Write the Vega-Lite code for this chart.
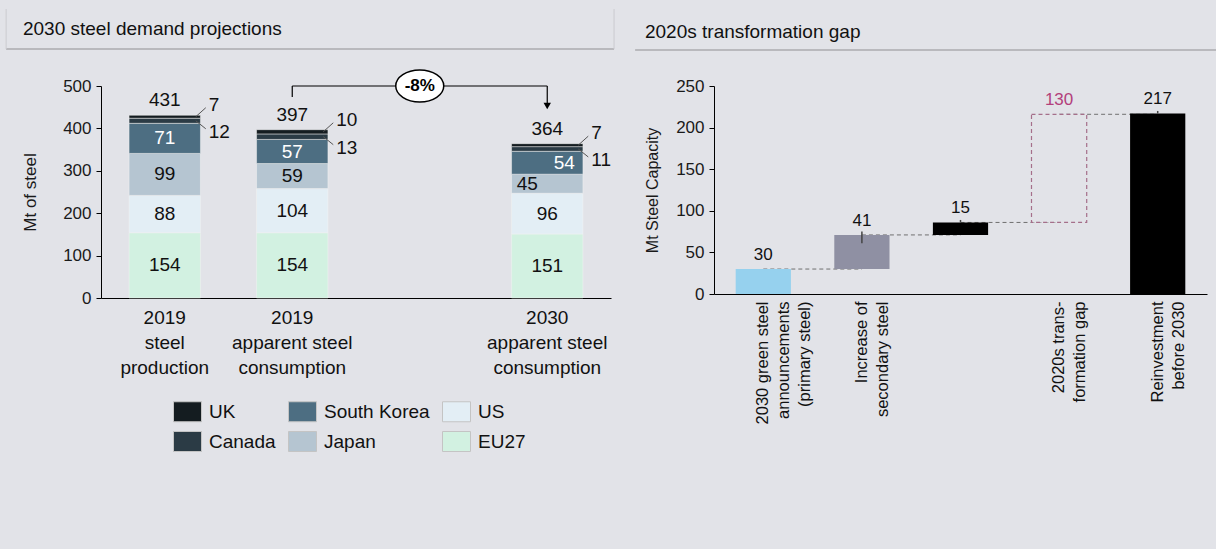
{
  "$schema": "https://vega.github.io/schema/vega-lite/v6.json",
  "background": "#e2e3e8",
  "padding": {"left": 5, "top": 8, "right": 0, "bottom": 95},
  "config": {
    "font": "Liberation Sans",
    "view": {"stroke": null},
    "axis": {"labelFont": "Liberation Sans", "titleFont": "Liberation Sans", "grid": false}
  },
  "resolve": {"scale": {"color": "independent"}, "legend": {"color": "independent"}},
  "datasets": {
    "steel": [
      {"cat": "2019|steel|production", "country": "EU27", "rank": 1, "value": 154},
      {"cat": "2019|steel|production", "country": "US", "rank": 2, "value": 88},
      {"cat": "2019|steel|production", "country": "Japan", "rank": 3, "value": 99},
      {"cat": "2019|steel|production", "country": "South Korea", "rank": 4, "value": 71},
      {"cat": "2019|steel|production", "country": "Canada", "rank": 5, "value": 12},
      {"cat": "2019|steel|production", "country": "UK", "rank": 6, "value": 7},
      {"cat": "2019|apparent steel|consumption", "country": "EU27", "rank": 1, "value": 154},
      {"cat": "2019|apparent steel|consumption", "country": "US", "rank": 2, "value": 104},
      {"cat": "2019|apparent steel|consumption", "country": "Japan", "rank": 3, "value": 59},
      {"cat": "2019|apparent steel|consumption", "country": "South Korea", "rank": 4, "value": 57},
      {"cat": "2019|apparent steel|consumption", "country": "Canada", "rank": 5, "value": 13},
      {"cat": "2019|apparent steel|consumption", "country": "UK", "rank": 6, "value": 10},
      {"cat": "2030|apparent steel|consumption", "country": "EU27", "rank": 1, "value": 151},
      {"cat": "2030|apparent steel|consumption", "country": "US", "rank": 2, "value": 96},
      {"cat": "2030|apparent steel|consumption", "country": "Japan", "rank": 3, "value": 45},
      {"cat": "2030|apparent steel|consumption", "country": "South Korea", "rank": 4, "value": 54},
      {"cat": "2030|apparent steel|consumption", "country": "Canada", "rank": 5, "value": 11},
      {"cat": "2030|apparent steel|consumption", "country": "UK", "rank": 6, "value": 7}
    ],
    "wf": [
      {"cat": "2030 green steel|announcements|(primary steel)", "kind": "green", "start": 0, "end": 30, "delta": 30},
      {"cat": "Increase of|secondary steel", "kind": "secondary", "start": 30, "end": 71, "delta": 41},
      {"cat": "blank", "kind": "other", "start": 71, "end": 86, "delta": 15},
      {"cat": "2020s trans-|formation gap", "kind": "gap", "start": 86, "end": 216, "delta": 130},
      {"cat": "Reinvestment|before 2030", "kind": "reinvest", "start": 0, "end": 217, "delta": 217}
    ],
    "links": [
      {"from": "2030 green steel|announcements|(primary steel)", "to": "Increase of|secondary steel", "level": 30},
      {"from": "Increase of|secondary steel", "to": "blank", "level": 71},
      {"from": "blank", "to": "2020s trans-|formation gap", "level": 86},
      {"from": "2020s trans-|formation gap", "to": "Reinvestment|before 2030", "level": 216}
    ],
    "stubs": [
      {"cat": "Increase of|secondary steel", "a": 61, "b": 75},
      {"cat": "blank", "a": 86, "b": 89},
      {"cat": "Reinvestment|before 2030", "a": 217, "b": 220}
    ]
  },
  "spacing": 19,
  "hconcat": [
    {
      "width": 510,
      "height": 212,
      "resolve": {"scale": {"x": "independent", "y": "independent"}},
      "layer": [
        {
          "data": {"name": "steel"},
          "layer": [
            {
              "mark": {"type": "bar", "stroke": "#f2f2f2", "strokeWidth": 0.5},
              "encoding": {
                "x": {
                  "field": "cat", "type": "nominal",
                  "scale": {"domain": ["2019|steel|production", "2019|apparent steel|consumption", " ", "2030|apparent steel|consumption"], "paddingInner": 0.44, "paddingOuter": 0.22},
                  "axis": {"title": null, "labelAngle": 0, "ticks": false, "domainColor": "#000", "domainWidth": 1, "labelFontSize": 19, "labelColor": "#111", "labelLineHeight": 25, "labelPadding": 10, "labelExpr": "split(datum.label, '|')"}
                },
                "y": {
                  "field": "value", "type": "quantitative", "stack": "zero",
                  "scale": {"domain": [0, 500], "nice": false},
                  "axis": {"title": "Mt of steel", "values": [0, 100, 200, 300, 400, 500], "domainColor": "#000", "tickColor": "#000", "tickSize": 5, "labelFontSize": 17, "labelColor": "#1a1a1a", "labelPadding": 5, "titleFontSize": 17, "titleFontWeight": "normal", "titleColor": "#1a1a1a", "titlePadding": 23}
                },
                "color": {
                  "field": "country", "type": "nominal",
                  "scale": {"domain": ["UK", "South Korea", "US", "Canada", "Japan", "EU27"], "range": ["#141c20", "#4d6e82", "#e3eef5", "#2b3b45", "#b5c5d1", "#d2f1e1"]},
                  "legend": {"orient": "none", "legendX": 76, "legendY": 315, "columns": 3, "direction": "horizontal", "title": null, "symbolType": "M-1.4,-1H1.4V1H-1.4Z", "symbolSize": 400, "symbolStrokeColor": "#c4c4c4", "symbolStrokeWidth": 1, "labelFontSize": 19, "labelOffset": 11, "columnPadding": 10, "rowPadding": 5, "labelColor": "#111", "padding": 0}
                },
                "order": {"field": "rank", "type": "quantitative"}
              }
            },
            {
              "transform": [
                {"stack": "value", "groupby": ["cat"], "sort": [{"field": "rank", "order": "ascending"}], "as": ["v0", "v1"]},
                {"calculate": "(datum.v0 + datum.v1) / 2", "as": "mid"}
              ],
              "layer": [
                {
                  "transform": [{"filter": "datum.rank <= 4 && !(datum.cat == '2030|apparent steel|consumption' && datum.rank >= 3)"}],
                  "mark": {"type": "text", "fontSize": 19, "baseline": "middle"},
                  "encoding": {
                    "x": {"field": "cat", "type": "nominal"},
                    "y": {"field": "mid", "type": "quantitative", "stack": null},
                    "text": {"field": "value"},
                    "color": {"condition": {"test": "datum.country == 'South Korea'", "value": "#ffffff"}, "value": "#111111"}
                  }
                },
                {
                  "transform": [{"filter": "datum.cat == '2030|apparent steel|consumption' && datum.rank == 3"}],
                  "mark": {"type": "text", "fontSize": 19, "baseline": "middle", "dx": -20, "color": "#111111"},
                  "encoding": {
                    "x": {"field": "cat", "type": "nominal"},
                    "y": {"field": "mid", "type": "quantitative", "stack": null},
                    "text": {"field": "value"}
                  }
                },
                {
                  "transform": [{"filter": "datum.cat == '2030|apparent steel|consumption' && datum.rank == 4"}],
                  "mark": {"type": "text", "fontSize": 19, "baseline": "middle", "dx": 17, "color": "#ffffff"},
                  "encoding": {
                    "x": {"field": "cat", "type": "nominal"},
                    "y": {"field": "mid", "type": "quantitative", "stack": null},
                    "text": {"field": "value"}
                  }
                },
                {
                  "transform": [{"filter": "datum.rank == 6"}],
                  "mark": {"type": "text", "fontSize": 19, "baseline": "middle", "align": "left", "dx": 44, "dy": -12, "color": "#111111"},
                  "encoding": {
                    "x": {"field": "cat", "type": "nominal"},
                    "y": {"field": "mid", "type": "quantitative", "stack": null},
                    "text": {"field": "value"}
                  }
                },
                {
                  "transform": [{"filter": "datum.rank == 5"}],
                  "mark": {"type": "text", "fontSize": 19, "baseline": "middle", "align": "left", "dx": 44, "dy": 11, "color": "#111111"},
                  "encoding": {
                    "x": {"field": "cat", "type": "nominal"},
                    "y": {"field": "mid", "type": "quantitative", "stack": null},
                    "text": {"field": "value"}
                  }
                },
                {
                  "transform": [{"filter": "datum.rank == 6"}],
                  "mark": {"type": "rule", "color": "#555555", "strokeWidth": 1, "xOffset": 31, "x2Offset": 41, "y2Offset": -9},
                  "encoding": {
                    "x": {"field": "cat", "type": "nominal"},
                    "x2": {"field": "cat"},
                    "y": {"field": "mid", "type": "quantitative", "stack": null},
                    "y2": {"field": "mid"}
                  }
                },
                {
                  "transform": [{"filter": "datum.rank == 5"}],
                  "mark": {"type": "rule", "color": "#555555", "strokeWidth": 1, "xOffset": 31, "x2Offset": 41, "y2Offset": 8},
                  "encoding": {
                    "x": {"field": "cat", "type": "nominal"},
                    "x2": {"field": "cat"},
                    "y": {"field": "mid", "type": "quantitative", "stack": null},
                    "y2": {"field": "mid"}
                  }
                }
              ]
            },
            {
              "transform": [{"aggregate": [{"op": "sum", "field": "value", "as": "total"}], "groupby": ["cat"]}],
              "mark": {"type": "text", "fontSize": 19, "baseline": "middle", "dy": -15, "color": "#111111"},
              "encoding": {
                "x": {"field": "cat", "type": "nominal"},
                "y": {"field": "total", "type": "quantitative", "stack": null},
                "text": {"field": "total"}
              }
            },
            {
              "data": {"values": [{}]},
              "mark": {"type": "rule", "color": "#000000", "strokeWidth": 1.2},
              "encoding": {
                "x": {"datum": "2019|apparent steel|consumption"},
                "y": {"datum": 474},
                "y2": {"datum": 500}
              }
            },
            {
              "data": {"values": [{}]},
              "mark": {"type": "rule", "color": "#000000", "strokeWidth": 1.2},
              "encoding": {
                "x": {"datum": "2019|apparent steel|consumption"},
                "x2": {"datum": "2030|apparent steel|consumption"},
                "y": {"datum": 500}
              }
            },
            {
              "data": {"values": [{}]},
              "mark": {"type": "rule", "color": "#000000", "strokeWidth": 1.2},
              "encoding": {
                "x": {"datum": "2030|apparent steel|consumption"},
                "y": {"datum": 500},
                "y2": {"datum": 457}
              }
            },
            {
              "data": {"values": [{}]},
              "mark": {"type": "point", "shape": "triangle-down", "size": 55, "filled": true, "color": "#000000", "opacity": 1},
              "encoding": {
                "x": {"datum": "2030|apparent steel|consumption"},
                "y": {"datum": 453}
              }
            },
            {
              "data": {"values": [{}]},
              "mark": {"type": "point", "shape": "M-1.5,0A1.5,1,0,1,0,1.5,0A1.5,1,0,1,0,-1.5,0Z", "size": 1024, "filled": true, "fill": "#ffffff", "stroke": "#000000", "strokeWidth": 1.5, "opacity": 1},
              "encoding": {
                "x": {"datum": " "},
                "y": {"datum": 500}
              }
            },
            {
              "data": {"values": [{"t": "-8%"}]},
              "mark": {"type": "text", "fontSize": 17, "fontWeight": "bold", "baseline": "middle", "color": "#000000"},
              "encoding": {
                "x": {"datum": " "},
                "y": {"datum": 500},
                "text": {"field": "t"}
              }
            }
          ]
        },
        {
          "data": {"values": [{"t": "2030 steel demand projections"}]},
          "layer": [
            {
              "mark": {"type": "rule", "color": "#ababaf", "strokeWidth": 1.5},
              "encoding": {
                "x": {"datum": -0.186, "type": "quantitative", "scale": {"domain": [0, 1]}, "axis": null},
                "x2": {"datum": 1.006},
                "y": {"datum": 1.1745, "type": "quantitative", "scale": {"domain": [0, 1]}, "axis": null}
              }
            },
            {
              "mark": {"type": "rule", "color": "#cbcbcf", "strokeWidth": 1},
              "encoding": {
                "x": {"datum": -0.186, "type": "quantitative"},
                "y": {"datum": 1.1745, "type": "quantitative"},
                "y2": {"datum": 1.363}
              }
            },
            {
              "mark": {"type": "rule", "color": "#cbcbcf", "strokeWidth": 1},
              "encoding": {
                "x": {"datum": 1.006, "type": "quantitative"},
                "y": {"datum": 1.1745, "type": "quantitative"},
                "y2": {"datum": 1.363}
              }
            },
            {
              "mark": {"type": "text", "fontSize": 19, "align": "left", "baseline": "middle", "color": "#111111"},
              "encoding": {
                "x": {"datum": -0.153, "type": "quantitative"},
                "y": {"datum": 1.269, "type": "quantitative"},
                "text": {"field": "t"}
              }
            }
          ]
        }
      ]
    },
    {
      "width": 493,
      "height": 208,
      "resolve": {"scale": {"x": "independent", "y": "independent"}},
      "layer": [
        {
          "layer": [
            {
              "data": {"name": "links"},
              "mark": {"type": "rule", "color": "#6f6f6f", "strokeWidth": 1, "strokeDash": [4, 3]},
              "encoding": {
                "x": {"field": "from", "type": "nominal", "scale": {"domain": ["2030 green steel|announcements|(primary steel)", "Increase of|secondary steel", "blank", "2020s trans-|formation gap", "Reinvestment|before 2030"], "paddingInner": 0.44, "paddingOuter": 0.22}},
                "x2": {"field": "to"},
                "y": {"field": "level", "type": "quantitative", "scale": {"domain": [0, 250], "nice": false}}
              }
            },
            {
              "data": {"name": "wf"},
              "transform": [{"filter": "datum.kind != 'gap'"}],
              "mark": {"type": "bar"},
              "encoding": {
                "x": {
                  "field": "cat", "type": "nominal",
                  "scale": {"domain": ["2030 green steel|announcements|(primary steel)", "Increase of|secondary steel", "blank", "2020s trans-|formation gap", "Reinvestment|before 2030"]},
                  "axis": {"title": null, "labelAngle": 270, "ticks": false, "domainColor": "#000", "domainWidth": 1, "labelFontSize": 16.5, "labelColor": "#111", "labelLineHeight": 21, "labelPadding": 7, "labelExpr": "datum.label == 'blank' ? '' : split(datum.label, '|')",
                    "encode": {"labels": {"update": {"dy": {"signal": "-(length(split(datum.value, '|')) - 1) * 10.5"}}}}}
                },
                "y": {
                  "field": "start", "type": "quantitative",
                  "scale": {"domain": [0, 250], "nice": false},
                  "axis": {"title": "Mt Steel Capacity", "values": [0, 50, 100, 150, 200, 250], "domainColor": "#000", "tickColor": "#000", "tickSize": 5, "labelFontSize": 17, "labelColor": "#1a1a1a", "labelPadding": 5, "titleFontSize": 16, "titleFontWeight": "normal", "titleColor": "#1a1a1a", "titlePadding": 15}
                },
                "y2": {"field": "end"},
                "color": {
                  "field": "kind", "type": "nominal", "legend": null,
                  "scale": {"domain": ["green", "secondary", "other", "reinvest"], "range": ["#96d1ee", "#8f90a3", "#000000", "#000000"]}
                }
              }
            },
            {
              "data": {"name": "wf"},
              "transform": [{"filter": "datum.kind == 'gap'"}],
              "mark": {"type": "bar", "fill": "#e2e3e8", "stroke": "#a56f8a", "strokeWidth": 1.2, "strokeDash": [4, 3]},
              "encoding": {
                "x": {"field": "cat", "type": "nominal"},
                "y": {"field": "start", "type": "quantitative"},
                "y2": {"field": "end"}
              }
            },
            {
              "data": {"name": "stubs"},
              "mark": {"type": "rule", "color": "#444444", "strokeWidth": 1.5},
              "encoding": {
                "x": {"field": "cat", "type": "nominal"},
                "y": {"field": "a", "type": "quantitative"},
                "y2": {"field": "b"}
              }
            },
            {
              "data": {"name": "wf"},
              "mark": {"type": "text", "fontSize": 17, "baseline": "middle", "dy": -14},
              "encoding": {
                "x": {"field": "cat", "type": "nominal"},
                "y": {"field": "end", "type": "quantitative"},
                "text": {"field": "delta"},
                "color": {"condition": {"test": "datum.kind == 'gap'", "value": "#b3407b"}, "value": "#111111"}
              }
            }
          ]
        },
        {
          "data": {"values": [{"t": "2020s transformation gap"}]},
          "layer": [
            {
              "mark": {"type": "rule", "color": "#ababaf", "strokeWidth": 1.5},
              "encoding": {
                "x": {"datum": -0.16, "type": "quantitative", "scale": {"domain": [0, 1]}, "axis": null},
                "x2": {"datum": 1.022},
                "y": {"datum": 1.173, "type": "quantitative", "scale": {"domain": [0, 1]}, "axis": null}
              }
            },
            {
              "mark": {"type": "text", "fontSize": 19, "align": "left", "baseline": "middle", "color": "#111111"},
              "encoding": {
                "x": {"datum": -0.14, "type": "quantitative"},
                "y": {"datum": 1.26, "type": "quantitative"},
                "text": {"field": "t"}
              }
            }
          ]
        }
      ]
    }
  ]
}
